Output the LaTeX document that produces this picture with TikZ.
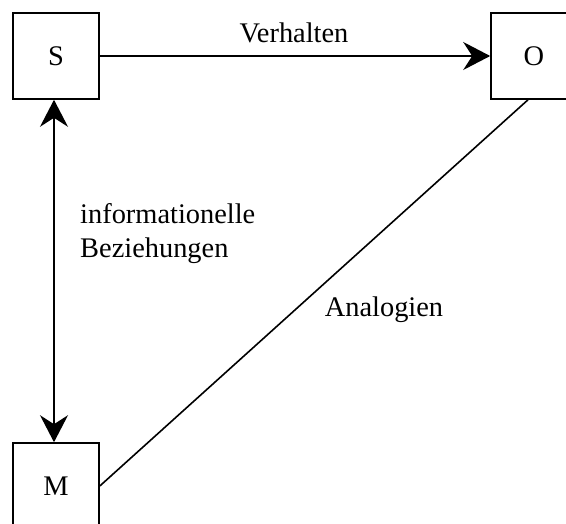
\documentclass[tikz,border=0pt]{standalone}
\usepackage{fontspec}
\setmainfont{Liberation Serif}
\usetikzlibrary{arrows.meta}
\begin{document}
\begin{tikzpicture}[x=1pt,y=-1pt,
  font=\fontsize{28.4}{34}\selectfont,
  box/.style={draw,line width=1.6pt,minimum size=86pt,inner sep=0pt},
  conn/.style={line width=1.6pt},
  head/.tip={Stealth[length=27pt,width=28pt,inset=9pt]},
  lbl/.style={inner sep=0pt,anchor=base}]
\useasboundingbox (0,0) rectangle (566,524);
\clip (0,0) rectangle (566,524);
% the three boxes
\node[box] (S) at (56,56) {S};
\node[box] (O) at (534,56) {O};
\node[box] (M) at (56,486) {M};
% connectors
\draw[conn,-head] (S.east) -- (O.west);
\draw[conn,head-head] ([xshift=-2pt]S.south) -- ([xshift=-2pt]M.north);
\draw[conn] ([xshift=-6pt]O.south) -- (M.east);
% labels
\node[lbl] (verh) at (294,43) {Verhalten};
\node[lbl,anchor=base west,align=left] (info) at (80,258) {informationelle\\Beziehungen};
\node[lbl] (ana) at (384,317) {Analogien};
\end{tikzpicture}
\end{document}
